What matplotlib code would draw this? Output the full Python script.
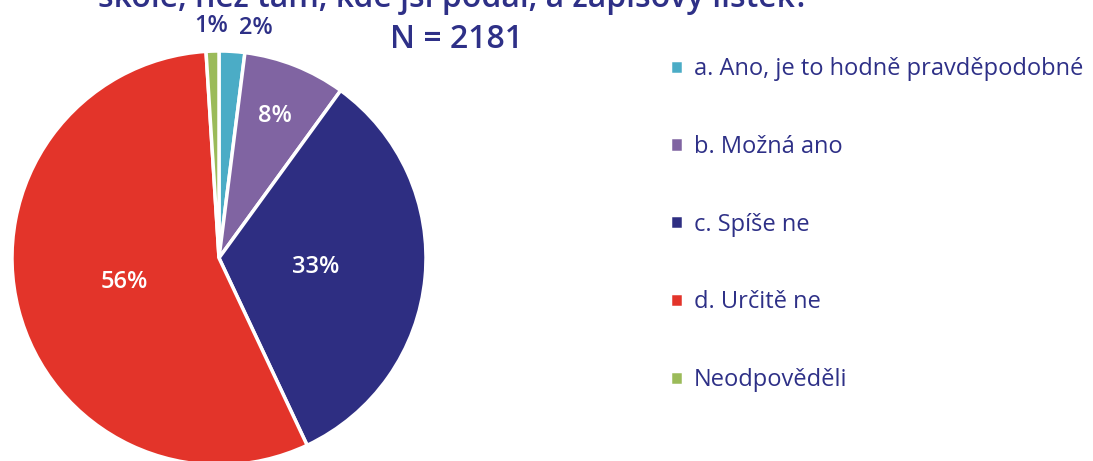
import numpy as np
import matplotlib.pyplot as plt

labels = ['a. Ano, je to hodně pravděpodobné', 'b. Možná ano', 'c. Spíše ne',
          'd. Určitě ne', 'Neodpověděli']
values = [2, 8, 33, 56, 1]
colors = ['#4BACC6', '#8064A2', '#2E2E82', '#E3342A', '#9BBB59']
navy = '#2E3087'

plt.rcParams['font.family'] = ['Open Sans', 'DejaVu Sans']

fig = plt.figure(figsize=(10.93, 4.61), dpi=100)
ax = fig.add_axes([12 / 1093, -4 / 461, 414 / 1093, 414 / 461])

wedges, texts, autotexts = ax.pie(values, colors=colors, startangle=90, counterclock=False,
                                  autopct='%d%%', pctdistance=0.47,
                                  wedgeprops=dict(edgecolor='white', linewidth=2.5),
                                  textprops=dict(fontsize=17, color='white', fontweight='semibold'))
ax.set_xlim(-1, 1)
ax.set_ylim(-1, 1)
ax.set_aspect('equal')

# per-label radius tweaks
label_r = [None, 0.74, 0.47, 0.47, None]
for w, t, r in zip(wedges, autotexts, label_r):
    if r is None:
        continue
    ang = np.deg2rad((w.theta1 + w.theta2) / 2)
    t.set_position((r * np.cos(ang), r * np.sin(ang)))
# small slices labelled outside
autotexts[0].set_position((0.18, 1.11))
autotexts[0].set_color(navy)
autotexts[4].set_position((-0.04, 1.12))
autotexts[4].set_color(navy)

fig.text(0.415, 1 - 7 / 461, 'škole, než tam, kde jsi podal, a zápisový lístek?',
         ha='center', va='baseline', fontsize=23, fontweight='semibold', color=navy)
fig.text(456 / 1093, 1 - 40 / 461, 'N = 2181', ha='center', va='center',
         fontsize=23, fontweight='semibold', color=navy)

leg = fig.legend(wedges, labels, loc='upper left', bbox_to_anchor=(670 / 1093, 1 - 57 / 461),
                 frameon=False, fontsize=17, labelspacing=2.28, handlelength=0.55,
                 handleheight=0.55, handletextpad=0.45, borderpad=0, borderaxespad=0)
for t in leg.get_texts():
    t.set_color(navy)

fig.savefig('out.png', dpi=100)
